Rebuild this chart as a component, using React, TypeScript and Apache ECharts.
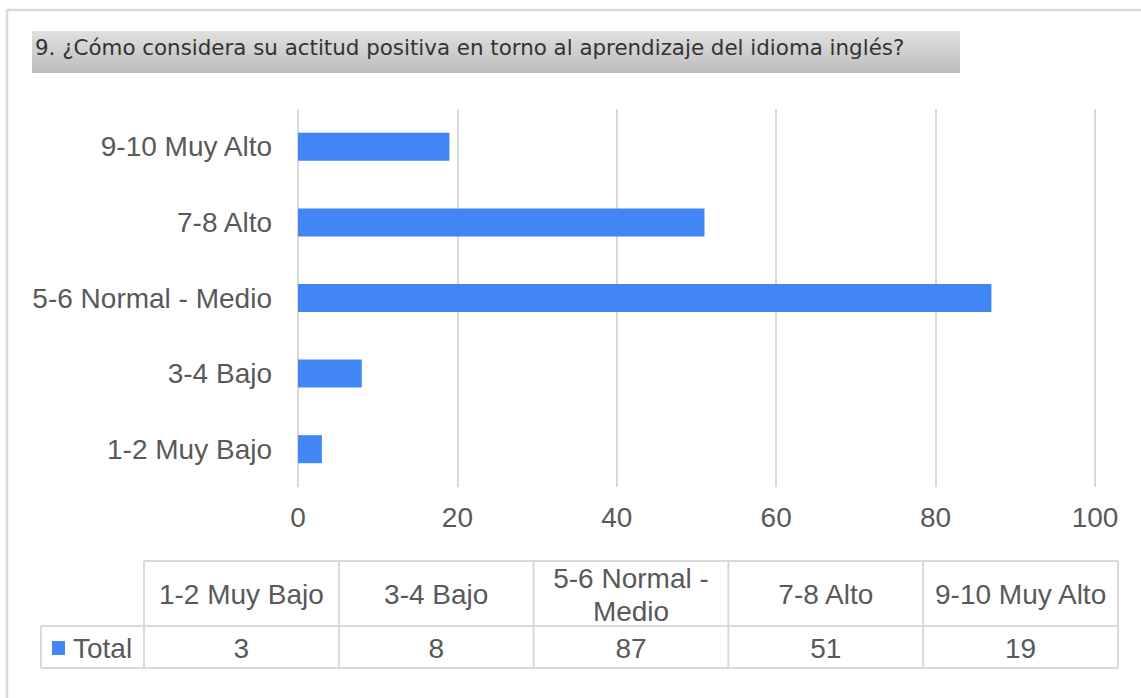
import React, { useEffect, useRef } from "react";
import * as echarts from "echarts";

const titleText = "9. ¿Cómo considera su actitud positiva en torno al aprendizaje del idioma inglés?";
const categories = ["1-2 Muy Bajo", "3-4 Bajo", "5-6 Normal - Medio", "7-8 Alto", "9-10 Muy Alto"];
const totals = [3, 8, 87, 51, 19];
const seriesName = "Total";
const xTicks = [0, 20, 40, 60, 80, 100];

const TEXT_COLOR = "#595959";
const GRID_COLOR = "#d9d9d9";
const BAR_COLOR = "#4285f4";
const FONT = '"Liberation Sans", Arial, sans-serif';
const TITLE_FONT = '"DejaVu Sans Condensed", "DejaVu Sans", sans-serif';

function measure(text: string, font: string): number {
  const c = document.createElement("canvas");
  const ctx = c.getContext("2d")!;
  ctx.font = font;
  return ctx.measureText(text).width;
}

function wrap(text: string, font: string, maxW: number): string {
  if (measure(text, font) <= maxW) return text;
  const words = text.split(" ");
  const lines: string[] = [];
  let cur = "";
  for (const w of words) {
    const t = cur ? cur + " " + w : w;
    if (measure(t, font) > maxW && cur) {
      lines.push(cur);
      cur = w;
    } else cur = t;
  }
  if (cur) lines.push(cur);
  return lines.join("\n");
}

export default function App() {
  const ref = useRef<HTMLDivElement>(null);
  useEffect(() => {
    if (!ref.current) return;
    const chart = echarts.init(ref.current, null, { renderer: "svg" });

    const titleFontSize = 21;
    const titleFontStr = `${titleFontSize}px ${TITLE_FONT}`;
    const titleW = measure(titleText, titleFontStr);
    const targetTitleW = 870;
    const titleScale = titleW > 0 ? targetTitleW / titleW : 1;

    const tblLeft = 144;
    const tblRight = 1118;
    const legLeft = 41;
    const yTop = 561;
    const yMid = 626;
    const yBot = 668;
    const n = categories.length;
    const colW = (tblRight - tblLeft) / n;
    const cellFont = `28px ${FONT}`;

    const lineStyle = { stroke: GRID_COLOR, lineWidth: 2 };
    const graphics: any[] = [];

    // outer border
    graphics.push({
      type: "rect",
      shape: { x: 7, y: 10, width: 1200, height: 800 },
      style: { fill: "none", stroke: GRID_COLOR, lineWidth: 2.5 },
      silent: true,
    });
    // title box
    graphics.push({
      type: "rect",
      shape: { x: 32, y: 31, width: 928, height: 42 },
      style: {
        fill: new echarts.graphic.LinearGradient(0, 0, 0, 1, [
          { offset: 0, color: "#e0e0e0" },
          { offset: 1, color: "#bdbdbd" },
        ]),
      },
      silent: true,
    });
    graphics.push({
      type: "text",
      x: 35,
      y: 48,
      scaleX: titleScale,
      style: {
        text: titleText,
        x: 0,
        y: 0,
        fill: "#333333",
        font: titleFontStr,
        align: "left",
        verticalAlign: "middle",
        textAlign: "left",
        textVerticalAlign: "middle",
      },
      silent: true,
    });

    // table lines
    graphics.push({ type: "line", shape: { x1: tblLeft, y1: yTop, x2: tblRight, y2: yTop }, style: lineStyle, silent: true });
    graphics.push({ type: "line", shape: { x1: legLeft, y1: yMid, x2: tblRight, y2: yMid }, style: lineStyle, silent: true });
    graphics.push({ type: "line", shape: { x1: legLeft, y1: yBot, x2: tblRight, y2: yBot }, style: lineStyle, silent: true });
    graphics.push({ type: "line", shape: { x1: legLeft, y1: yMid, x2: legLeft, y2: yBot }, style: lineStyle, silent: true });
    for (let i = 0; i <= n; i++) {
      const x = tblLeft + i * colW;
      graphics.push({ type: "line", shape: { x1: x, y1: yTop, x2: x, y2: yBot }, style: lineStyle, silent: true });
    }
    // header + values
    categories.forEach((c, i) => {
      const cx = tblLeft + (i + 0.5) * colW;
      graphics.push({
        type: "text",
        x: cx,
        y: (yTop + yMid) / 2 + 1,
        style: {
          text: wrap(c, cellFont, colW - 10),
          fill: TEXT_COLOR,
          font: cellFont,
          lineHeight: 33,
          align: "center",
          verticalAlign: "middle",
          textAlign: "center",
          textVerticalAlign: "middle",
        },
        silent: true,
      });
      graphics.push({
        type: "text",
        x: cx,
        y: (yMid + yBot) / 2 + 1,
        style: {
          text: String(totals[i]),
          fill: TEXT_COLOR,
          font: cellFont,
          align: "center",
          verticalAlign: "middle",
          textAlign: "center",
          textVerticalAlign: "middle",
        },
        silent: true,
      });
    });
    // legend key
    graphics.push({
      type: "rect",
      shape: { x: 52, y: 641, width: 13, height: 14 },
      style: { fill: BAR_COLOR },
      silent: true,
    });
    graphics.push({
      type: "text",
      x: 73,
      y: (yMid + yBot) / 2 + 1,
      style: {
        text: seriesName,
        fill: TEXT_COLOR,
        font: cellFont,
        align: "left",
        verticalAlign: "middle",
        textAlign: "left",
        textVerticalAlign: "middle",
      },
      silent: true,
    });

    chart.setOption({
      animation: false,
      backgroundColor: "#ffffff",
      grid: { left: 298, right: 46, top: 109, bottom: 211, containLabel: false },
      xAxis: {
        type: "value",
        min: xTicks[0],
        max: xTicks[xTicks.length - 1],
        interval: xTicks[1] - xTicks[0],
        axisLine: { show: false },
        axisTick: { show: false },
        splitLine: { show: true, lineStyle: { color: GRID_COLOR, width: 2 } },
        axisLabel: { color: TEXT_COLOR, fontSize: 28, fontFamily: FONT, margin: 16 },
      },
      yAxis: {
        type: "category",
        data: categories,
        axisLine: { show: false },
        axisTick: { show: false },
        splitLine: { show: false },
        axisLabel: { color: TEXT_COLOR, fontSize: 28, fontFamily: FONT, margin: 26 },
      },
      series: [
        {
          name: seriesName,
          type: "bar",
          data: totals,
          barWidth: 28,
          itemStyle: { color: BAR_COLOR },
        },
      ],
      graphic: { elements: graphics },
    });
    return () => chart.dispose();
  }, []);
  return <div ref={ref} style={{ position: "absolute", left: 0, top: 0, width: 1141, height: 698 }} />;
}
